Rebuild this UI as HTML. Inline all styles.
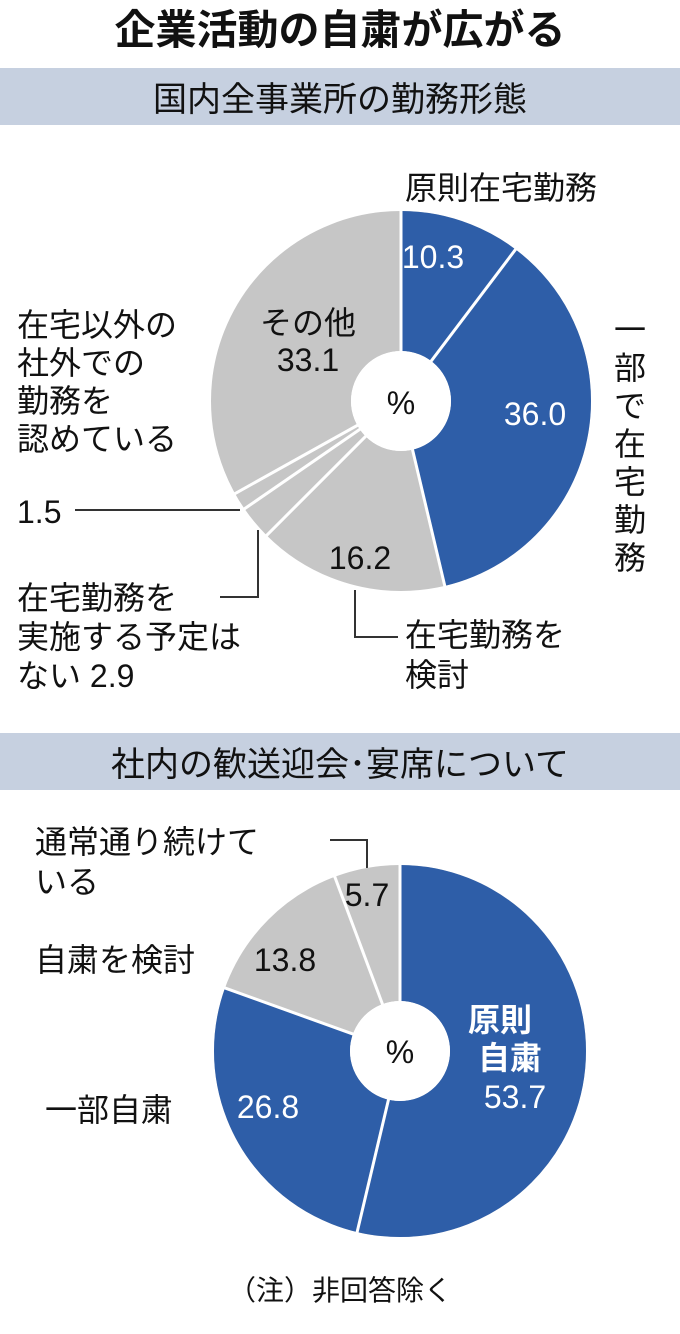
<!DOCTYPE html>
<html><head><meta charset="utf-8"><style>
body{margin:0;background:#fff;}
svg text{font-family:"Liberation Sans","Noto Sans CJK JP",sans-serif;}
</style></head><body>
<svg width="680" height="1329" viewBox="0 0 680 1329" xmlns="http://www.w3.org/2000/svg">
<text x="340" y="44" font-size="41" font-weight="bold" text-anchor="middle" fill="#111">企業活動の自粛が広がる</text>
<rect x="0" y="68" width="680" height="57" fill="#c6d0e0"/>
<text x="340" y="111" font-size="34" text-anchor="middle" fill="#111">国内全事業所の勤務形態</text>
<rect x="0" y="733" width="680" height="57" fill="#c6d0e0"/>
<text x="340" y="776" font-size="34" text-anchor="middle" fill="#111">社内の歓送迎会･宴席について</text>

<!-- top pie -->
<g transform="translate(401,401) rotate(-90)">
<circle r="120" fill="none" stroke="#c6c6c6" stroke-width="140"/>
<circle r="120" fill="none" stroke="#2e5ea8" stroke-width="140" stroke-dasharray="349.09 1000"/>
</g>
<g transform="translate(401,401)" stroke="#fff" stroke-width="3">
<line x1="0" y1="0" x2="0" y2="-192" transform="rotate(0)"/>
<line x1="0" y1="0" x2="0" y2="-192" transform="rotate(37.08)"/>
<line x1="0" y1="0" x2="0" y2="-192" transform="rotate(166.68)"/>
<line x1="0" y1="0" x2="0" y2="-192" transform="rotate(225)"/>
<line x1="0" y1="0" x2="0" y2="-192" transform="rotate(235.44)"/>
<line x1="0" y1="0" x2="0" y2="-192" transform="rotate(240.84)"/>
</g>
<circle cx="401" cy="401" r="50" fill="#fff"/>
<text x="401" y="414" font-size="32" text-anchor="middle" fill="#111">%</text>
<g font-size="32" fill="#fff" text-anchor="middle">
<text x="433" y="268">10.3</text>
<text x="535" y="425">36.0</text>
</g>
<g font-size="32" fill="#111" text-anchor="middle">
<text x="308" y="334">その他</text>
<text x="308" y="371">33.1</text>
<text x="360" y="569">16.2</text>
</g>
<g font-size="32" fill="#111">
<text x="405" y="199">原則在宅勤務</text>
<text x="17" y="336">在宅以外の</text>
<text x="17" y="374">社外での</text>
<text x="17" y="412">勤務を</text>
<text x="17" y="450">認めている</text>
<text x="17" y="523">1.5</text>
<text x="17" y="609">在宅勤務を</text>
<text x="17" y="648">実施する予定は</text>
<text x="17" y="687">ない 2.9</text>
<text x="405" y="646">在宅勤務を</text>
<text x="405" y="686">検討</text>
</g>
<g font-size="32" fill="#111" text-anchor="middle">
<text x="630" y="341">一</text><text x="630" y="379">部</text><text x="630" y="417">で</text><text x="630" y="455">在</text><text x="630" y="493">宅</text><text x="630" y="531">勤</text><text x="630" y="569">務</text>
</g>
<g stroke="#333" stroke-width="2" fill="none">
<polyline points="75,510 240,510"/>
<polyline points="220,597 258,597 258,530"/>
<polyline points="355,590 355,637 398,637"/>
<polyline points="330,840 367,840 367,868"/>
</g>

<!-- bottom pie -->
<g transform="translate(400,1051) rotate(-90)">
<circle r="118" fill="none" stroke="#c6c6c6" stroke-width="136"/>
<circle r="118" fill="none" stroke="#2e5ea8" stroke-width="136" stroke-dasharray="596.87 1000"/>
</g>
<g transform="translate(400,1051)" stroke="#fff" stroke-width="3">
<line x1="0" y1="0" x2="0" y2="-188" transform="rotate(0)"/>
<line x1="0" y1="0" x2="0" y2="-188" transform="rotate(193.32)"/>
<line x1="0" y1="0" x2="0" y2="-188" transform="rotate(289.8)"/>
<line x1="0" y1="0" x2="0" y2="-188" transform="rotate(339.48)"/>
</g>
<circle cx="400" cy="1051" r="50" fill="#fff"/>
<text x="400" y="1063" font-size="32" text-anchor="middle" fill="#111">%</text>
<g font-size="32" fill="#fff" text-anchor="middle">
<text x="500" y="1031" font-weight="bold">原則</text>
<text x="510" y="1069" font-weight="bold">自粛</text>
<text x="515" y="1108">53.7</text>
<text x="268" y="1118">26.8</text>
</g>
<g font-size="32" fill="#111">
<text x="367" y="906" text-anchor="middle">5.7</text>
<text x="285" y="971" text-anchor="middle">13.8</text>
<text x="35" y="853">通常通り続けて</text>
<text x="35" y="893">いる</text>
<text x="35" y="971">自粛を検討</text>
<text x="45" y="1121">一部自粛</text>
<text x="340" y="1300" text-anchor="middle" font-size="28">（注）非回答除く</text>
</g>
</svg>
</body></html>
